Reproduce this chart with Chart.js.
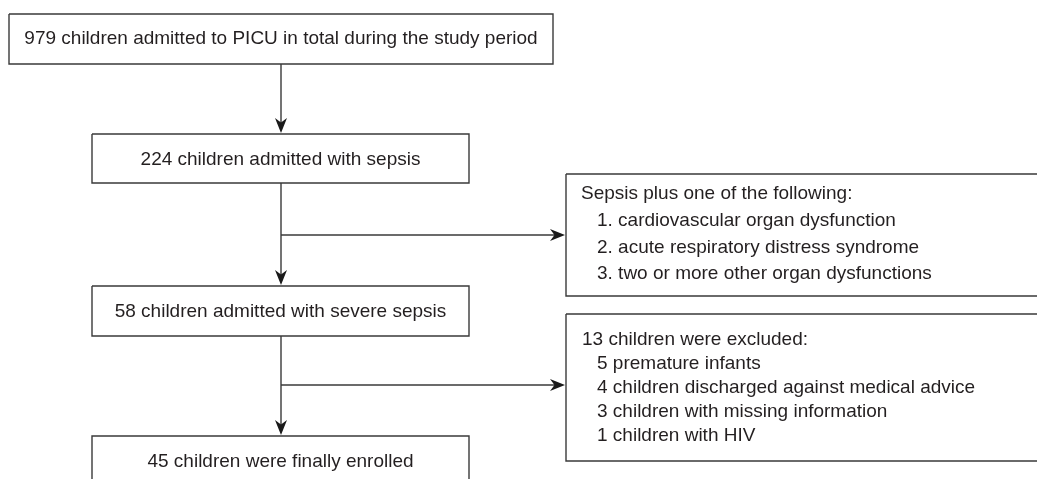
<!DOCTYPE html>
<html>
<head>
<meta charset="utf-8">
<script src="https://cdn.jsdelivr.net/npm/chart.js@4.4.0/dist/chart.umd.min.js"></script>
<style>
  body { margin: 0; background: #fff; }
  #wrap { width: 1037px; height: 479px; }
</style>
</head>
<body>
<div id="wrap"><canvas id="flowChart" width="1037" height="479"></canvas></div>
<script>
// flow stages (counts)
const stageCounts = [979, 224, 58, 45];
const stageLabels = [
    'children admitted to PICU in total during the study period',
    'children admitted with sepsis',
    'children admitted with severe sepsis',
    'children were finally enrolled'
];
const severeHeader = 'Sepsis plus one of the following:';
const severeCriteria = [
    'cardiovascular organ dysfunction',
    'acute respiratory distress syndrome',
    'two or more other organ dysfunctions'
];
const excludedCount = 13;
const exclusionCounts = [5, 4, 3, 1];
const exclusionReasons = [
    'premature infants',
    'children discharged against medical advice',
    'children with missing information',
    'children with HIV'
];

// layout (chart units = pixels)
const stageBoxes = [
    { x1: 9, y1: 14, x2: 553, y2: 64 },
    { x1: 92, y1: 134, x2: 469, y2: 183 },
    { x1: 92, y1: 286, x2: 469, y2: 336 },
    { x1: 92, y1: 436, x2: 469, y2: 490 }
];
const sideBoxes = [
    { x1: 566, y1: 174, x2: 1045, y2: 296 },
    { x1: 566, y1: 314, x2: 1045, y2: 461 }
];
const trunkX = 281;
const branchY = [235, 385];

const lineColor = '#3a3a3a';
const arrowColor = '#1a1a1a';
const textColor = '#231f20';
const fontFamily = '"Liberation Sans", Arial, Helvetica, sans-serif';

function rectPath(b, open) {
    if (open) {
        return [{ x: b.x1, y: b.y2 }, { x: b.x1, y: b.y1 }, { x: b.x2, y: b.y1 }, { x: b.x2, y: b.y2 }];
    }
    return [{ x: b.x1, y: b.y1 }, { x: b.x2, y: b.y1 }, { x: b.x2, y: b.y2 }, { x: b.x1, y: b.y2 }, { x: b.x1, y: b.y1 }];
}

function lineSet(points) {
    return {
        type: 'line',
        data: points,
        borderColor: lineColor,
        borderWidth: 1.4,
        pointRadius: 0,
        fill: false,
        tension: 0
    };
}

const datasets = [];
stageBoxes.forEach((b, i) => datasets.push(lineSet(rectPath(b, i === stageBoxes.length - 1))));
sideBoxes.forEach(b => datasets.push(lineSet(rectPath(b, false))));

// vertical connectors between stage boxes
const arrows = [];
for (let i = 0; i < stageBoxes.length - 1; i++) {
    const from = stageBoxes[i].y2;
    const to = stageBoxes[i + 1].y1;
    datasets.push(lineSet([{ x: trunkX, y: from }, { x: trunkX, y: to - 6 }]));
    arrows.push({ x: trunkX, y: to - 1, dir: 'down' });
}
// side branches
branchY.forEach((y, i) => {
    datasets.push(lineSet([{ x: trunkX, y: y }, { x: sideBoxes[i].x1 - 6, y: y }]));
    arrows.push({ x: sideBoxes[i].x1 - 1, y: y, dir: 'right' });
});

const flowPlugin = {
    id: 'flowPlugin',
    afterDatasetsDraw(chart) {
        const ctx = chart.ctx;
        const xs = chart.scales.x;
        const ys = chart.scales.y;
        const px = v => xs.getPixelForValue(v);
        const py = v => ys.getPixelForValue(v);

        // arrowheads
        ctx.save();
        ctx.fillStyle = arrowColor;
        arrows.forEach(a => {
            const tx = px(a.x), ty = py(a.y);
            const len = 15, half = 6, notch = 4.5;
            ctx.beginPath();
            if (a.dir === 'down') {
                ctx.moveTo(tx, ty);
                ctx.lineTo(tx - half, ty - len);
                ctx.lineTo(tx, ty - len + notch);
                ctx.lineTo(tx + half, ty - len);
            } else {
                ctx.moveTo(tx, ty);
                ctx.lineTo(tx - len, ty - half);
                ctx.lineTo(tx - len + notch, ty);
                ctx.lineTo(tx - len, ty + half);
            }
            ctx.closePath();
            ctx.fill();
        });
        ctx.restore();

        // stage box texts
        ctx.save();
        ctx.fillStyle = textColor;
        ctx.font = '19px ' + fontFamily;
        ctx.textAlign = 'center';
        ctx.textBaseline = 'middle';
        const textY = [39, 160, 312, 462];
        stageBoxes.forEach((b, i) => {
            ctx.fillText(stageCounts[i] + ' ' + stageLabels[i], px((b.x1 + b.x2) / 2), py(textY[i]));
        });

        // side box texts
        ctx.textAlign = 'left';
        ctx.fillText(severeHeader, px(581), py(194));
        severeCriteria.forEach((c, i) => {
            ctx.fillText((i + 1) + '. ' + c, px(597), py(221 + i * 26.5));
        });
        ctx.fillText(excludedCount + ' children were excluded:', px(582), py(340));
        exclusionReasons.forEach((r, i) => {
            ctx.fillText(exclusionCounts[i] + ' ' + r, px(597), py(364 + i * 24));
        });
        ctx.restore();
    }
};

new Chart(document.getElementById('flowChart'), {
    type: 'line',
    data: { datasets: datasets },
    options: {
        responsive: false,
        animation: false,
        layout: { padding: 0 },
        plugins: { legend: { display: false }, tooltip: { enabled: false } },
        scales: {
            x: { type: 'linear', min: 0, max: 1037, display: false },
            y: { type: 'linear', min: 0, max: 479, reverse: true, display: false }
        }
    },
    plugins: [flowPlugin]
});
</script>
</body>
</html>
